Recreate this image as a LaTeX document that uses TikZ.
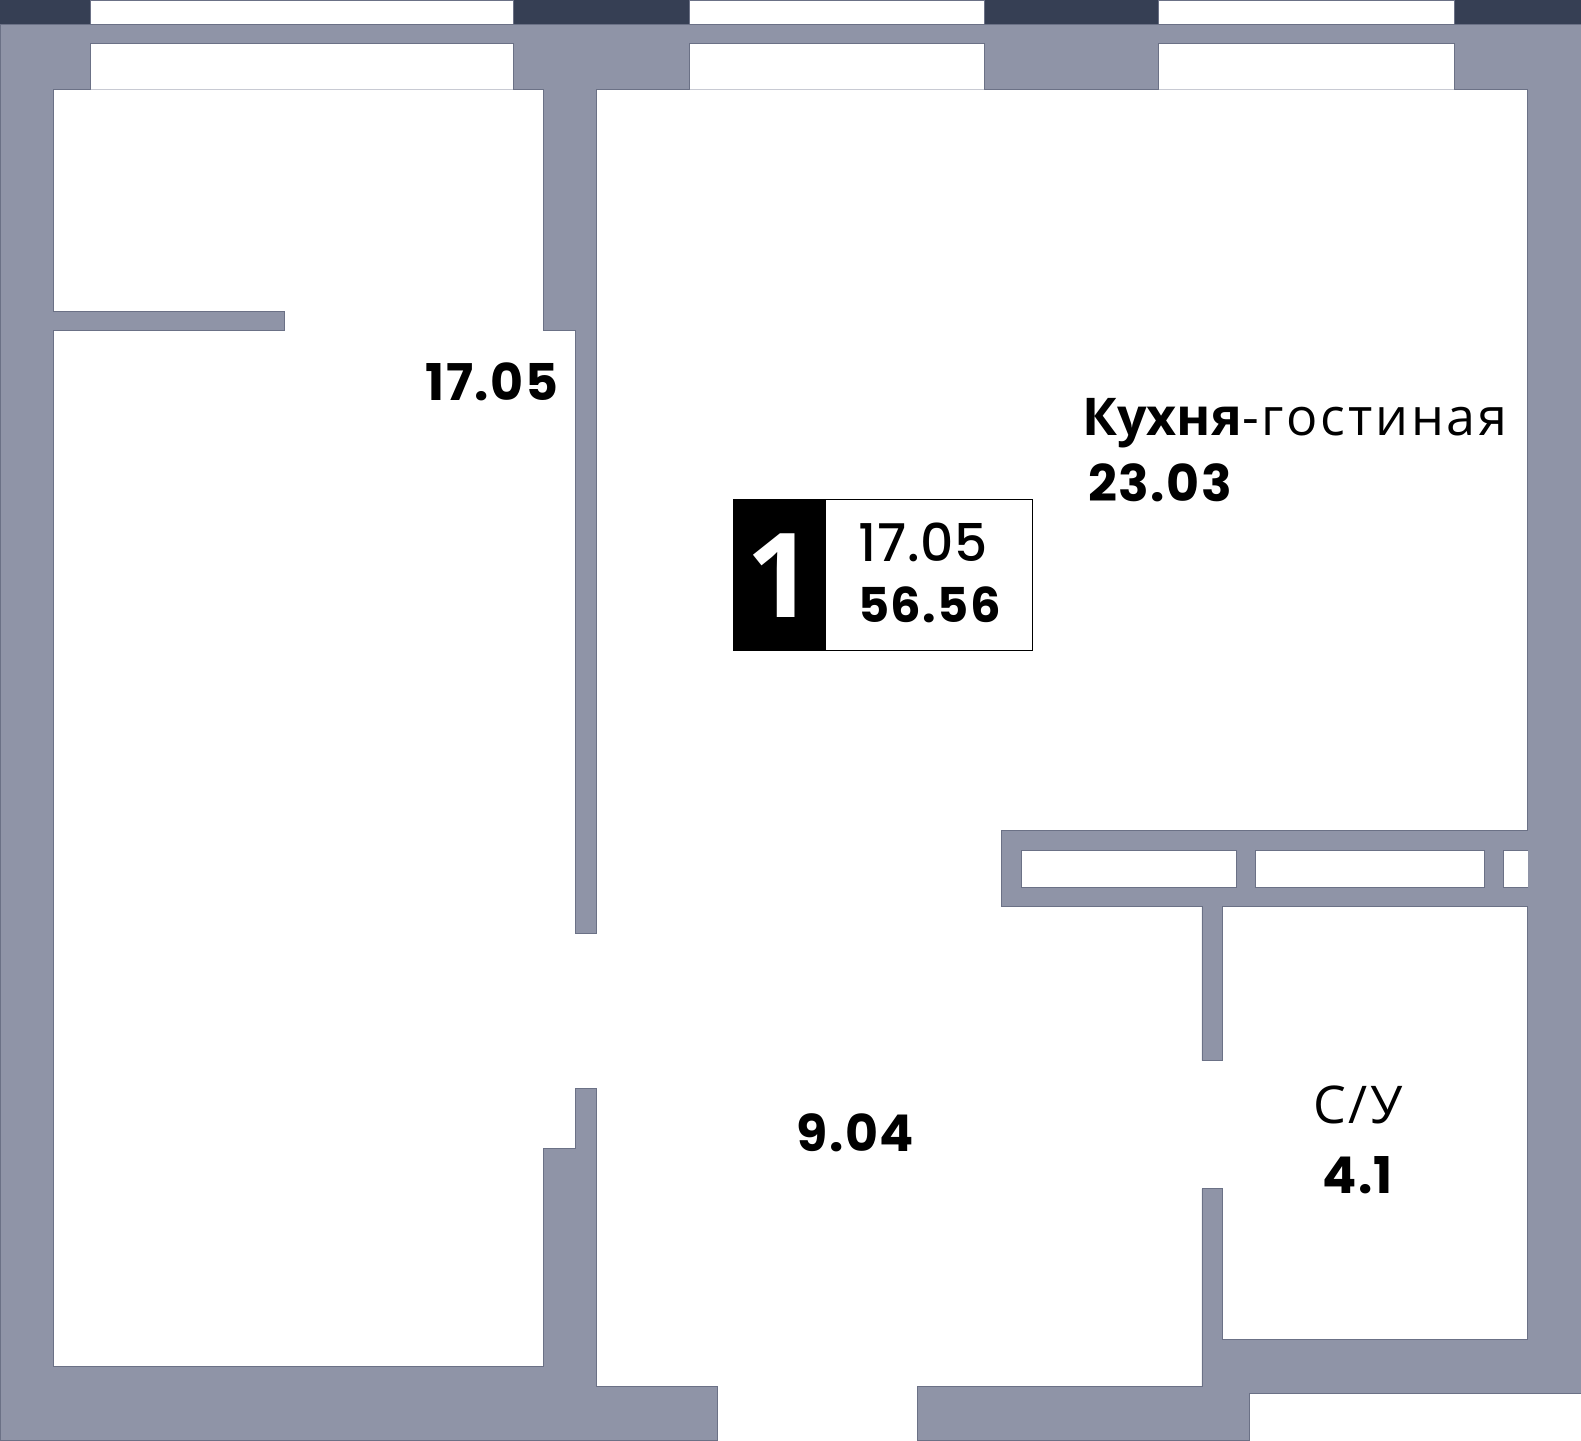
\documentclass[tikz,border=0pt]{standalone}
\usepackage{fontspec}
\setmainfont{Poppins}
\newfontfamily\numfont[LetterSpace=3]{Poppins}
\newfontfamily\thinfont[LetterSpace=1.5,UprightFont=* Medium]{Poppins}
\newfontfamily\cyrfont{Open Sans}
\newfontfamily\cyrwide[LetterSpace=5.5]{Open Sans}
\usepackage{xcolor}
\usetikzlibrary{positioning}
\definecolor{wallgray}{HTML}{8F94A7}
\definecolor{walledge}{HTML}{6B7186}
\definecolor{sillgray}{HTML}{C8CAD3}
\definecolor{darkband}{HTML}{363F54}
\tikzset{
    wall/.style={fill=wallgray, draw=walledge, line width=0.6pt},
    opening/.style={fill=white, draw=walledge, line width=0.6pt},
    sill/.style={draw=sillgray, line width=0.8pt},
    areatext/.style={inner sep=0pt, anchor=base west, text=black, font=\fontsize{38}{38}\selectfont\numfont\bfseries},
    nametext/.style={inner sep=0pt, anchor=base west, text=black, font=\fontsize{39}{39}\selectfont\cyrwide},
}

\begin{document}
\begin{tikzpicture}[x=0.75pt, y=-0.75pt]
    \useasboundingbox (0,0) rectangle (1581,1440);
    \fill[white] (0,0) rectangle (1581,1440);

    % наружная полоса
    \fill[darkband] (0,0) rectangle (1581,24);
    \draw[opening] (90.7,0) rectangle (513.2,24);
    \draw[opening] (689.7,0) rectangle (984.1,24);
    \draw[opening] (1158.5,0) rectangle (1454,24);

    % стены
    \draw[wall] (0,24) -- (1581,24) -- (1581,1393) -- (1249.3,1393) -- (1249.3,1440)
        -- (917.5,1440) -- (917.5,1386.4) -- (1201.9,1386.4) -- (1201.9,1188.8)
        -- (1222,1188.8) -- (1222,1339) -- (1527.6,1339) -- (1527.6,906.5)
        -- (1222,906.5) -- (1222,1060.7) -- (1201.9,1060.7) -- (1201.9,906.5)
        -- (1001.2,906.5) -- (1001.2,830.8) -- (1527.6,830.8) -- (1527.6,89.7)
        -- (595.9,89.7) -- (595.9,933.7) -- (575.7,933.7) -- (575.7,330.7)
        -- (543.5,330.7) -- (543.5,89.7) -- (53.4,89.7) -- (53.4,311.5)
        -- (284.3,311.5) -- (284.3,330.7) -- (53.4,330.7) -- (53.4,1366.2)
        -- (543.5,1366.2) -- (543.5,1148.4) -- (575.7,1148.4) -- (575.7,1088)
        -- (595.9,1088) -- (595.9,1386.4) -- (716.9,1386.4) -- (716.9,1440)
        -- (0,1440) -- cycle;

    % проёмы окон
    \draw[opening] (90.7,89.7) -- (90.7,43.4) -- (513.2,43.4) -- (513.2,89.7);
    \draw[opening] (689.7,89.7) -- (689.7,43.4) -- (984.1,43.4) -- (984.1,89.7);
    \draw[opening] (1158.5,89.7) -- (1158.5,43.4) -- (1454,43.4) -- (1454,89.7);
    \draw[sill] (90.7,89.7) -- (513.2,89.7);
    \draw[sill] (689.7,89.7) -- (984.1,89.7);
    \draw[sill] (1158.5,89.7) -- (1454,89.7);

    % шахты
    \draw[opening] (1021.4,850) rectangle (1236.2,887.3);
    \draw[opening] (1255.3,850) rectangle (1484.2,887.3);
    \draw[opening] (1527.6,850) -- (1503.4,850) -- (1503.4,887.3) -- (1527.6,887.3);

    % табличка
    \node[inner sep=0pt, minimum width=224.6pt, minimum height=113.5pt, anchor=north west, fill=white, draw=black, line width=0.6pt] (planbox) at (733,499) {};
    \node[inner sep=0pt, minimum width=69.6pt, minimum height=113.5pt, anchor=north west, fill=black] (roomcount) at (733,499) {};
    \node[inner sep=0pt, anchor=base, text=white, font=\fontsize{88}{88}\selectfont\cyrfont\bfseries] (roomnum) at (780,617) {1};
    \node[inner sep=0pt, text depth=0pt, anchor=base west, font=\fontsize{39}{39}\selectfont\thinfont] (livingsmall) at (858,561.6) {17.05};
    \node[areatext, text height=27pt, text depth=0pt, font=\fontsize{36}{36}\selectfont\numfont\bfseries] (totalarea) at (858,622) {56.56};

    % подписи комнат
    \node[areatext] (bedarea) at (425.5,400) {17.05};
    \node[nametext] (kitchenname) at (1082,435.6) {{\cyrfont\bfseries Кухня}-гостиная};
    \node[areatext] (kitchenarea) at (1088,501) {23.03};
    \node[areatext] (hallarea) at (796.5,1151) {9.04};
    \node[nametext] (bathname) at (1313,1123) {С/У};
    \node[areatext] (batharea) at (1322,1193) {4.1};
\end{tikzpicture}
\end{document}
